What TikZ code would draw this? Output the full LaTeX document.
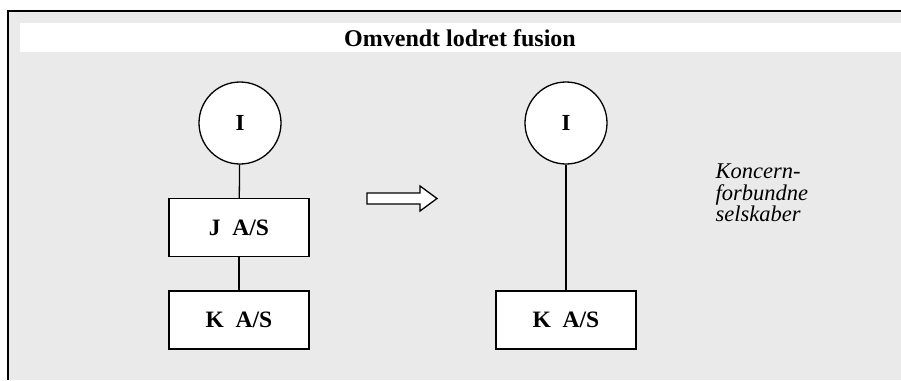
\documentclass[tikz,border=0pt]{standalone}
\usepackage{fontspec}
\setmainfont{Liberation Serif}
\definecolor{bggray}{RGB}{234,234,234}
\begin{document}
\begin{tikzpicture}[x=1pt,y=-1pt,line width=1.3pt,
  person/.style={circle,draw,fill=white,minimum size=82pt,inner sep=0pt,font=\bfseries\fontsize{23}{26}\selectfont},
  firm/.style={rectangle,draw,fill=white,minimum width=140pt,minimum height=58pt,inner sep=0pt,font=\bfseries\fontsize{23.5}{26}\selectfont}]
\useasboundingbox (0,0) rectangle (901,380);
\fill[bggray] (8,11) rectangle (901,380);
\draw[line width=1.6pt] (8,380)--(8,11)--(901,11);
\fill[white] (20,23) rectangle (901,52);
\node[font=\bfseries\fontsize{24}{28}\selectfont] (title) at (460,38) {Omvendt lodret fusion};
% before
\node[person] (I1) at (240,123) {I};
\node[firm] (J) at (239,227.5) {J\ \ A/S};
\node[firm] (K1) at (239,320) {K\ \ A/S};
\draw (I1)--(J);
\draw (J)--(K1);
% after
\node[person] (I2) at (566,123) {I};
\node[firm] (K2) at (566,320) {K\ \ A/S};
\draw (I2)--(K2);
% block arrow
\draw[fill=white,line width=1.3pt] (367,193)--(420,193)--(420,186)--(437,198.5)--(420,211)--(420,204)--(367,204)--cycle;
\node[anchor=west,align=left,inner sep=0pt,font=\itshape\fontsize{22.5}{21.5}\selectfont] (note) at (715,193) {Koncern-\\forbundne\\selskaber};
\end{tikzpicture}
\end{document}
